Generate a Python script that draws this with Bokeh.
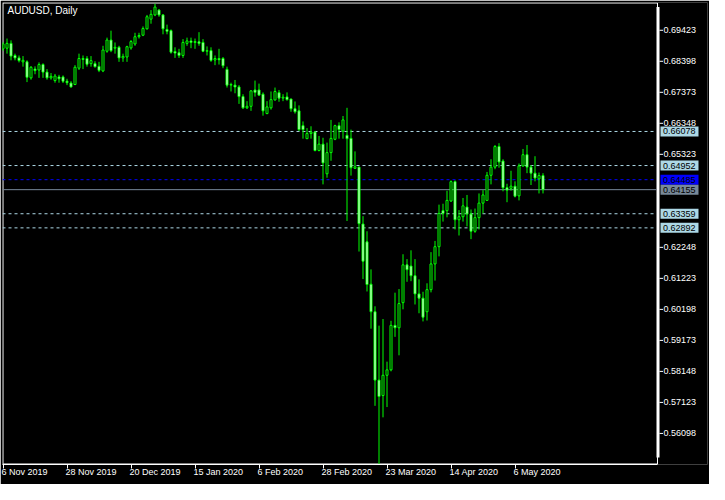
from bokeh.plotting import figure
from bokeh.models import (Range1d, FixedTicker, Label, ColumnDataSource,
                          PrintfTickFormatter, LinearAxis, CustomJSTickFormatter)
from bokeh.core.properties import value
from bokeh.embed import file_html
from bokeh.resources import INLINE

# ---------------- data (AUDUSD daily, 6 Nov 2019 .. 15 May 2020) ----------------
opens = [0.6881, 0.6883, 0.6899, 0.6859, 0.6851, 0.6838, 0.6838, 0.6785, 0.6814, 0.6811,
         0.6829, 0.6804, 0.6785, 0.6776, 0.6788, 0.6788, 0.6774, 0.6768, 0.6763, 0.6817,
         0.6849, 0.6849, 0.6832, 0.6832, 0.6823, 0.6808, 0.6873, 0.6910, 0.6883, 0.6886,
         0.6851, 0.6854, 0.6884, 0.6897, 0.6921, 0.6926, 0.6947, 0.6979, 0.6993, 0.7009,
         0.6993, 0.6945, 0.6941, 0.6872, 0.6868, 0.6859, 0.6899, 0.6907, 0.6902, 0.6904,
         0.6902, 0.6873, 0.6875, 0.6844, 0.6849, 0.6849, 0.6813, 0.6761, 0.6761, 0.6755,
         0.6723, 0.6686, 0.6691, 0.6745, 0.6745, 0.6731, 0.6667, 0.6686, 0.6712, 0.6736,
         0.6718, 0.6722, 0.6715, 0.6683, 0.6676, 0.6627, 0.6584, 0.6601, 0.6606, 0.6545,
         0.6566, 0.6468, 0.6538, 0.6582, 0.6627, 0.6609, 0.6595, 0.6585, 0.6486, 0.6490,
         0.6302, 0.6243, 0.6103, 0.6012, 0.5786, 0.5735, 0.5802, 0.5820, 0.5967, 0.5959,
         0.6042, 0.6167, 0.6163, 0.6131, 0.6071, 0.6057, 0.6012, 0.6085, 0.6170, 0.6227,
         0.6346, 0.6346, 0.6378, 0.6442, 0.6316, 0.6326, 0.6358, 0.6335, 0.6278, 0.6323,
         0.6371, 0.6380, 0.6463, 0.6490, 0.6558, 0.6510, 0.6422, 0.6420, 0.6427, 0.6395,
         0.6494, 0.6531, 0.6490, 0.6470, 0.6451, 0.6462]
highs = [0.6903, 0.6915, 0.6909, 0.6865, 0.6859, 0.6857, 0.6843, 0.6824, 0.6823, 0.6836,
         0.6833, 0.6814, 0.6801, 0.6798, 0.6795, 0.6793, 0.6782, 0.6774, 0.6827, 0.6865,
         0.6859, 0.6857, 0.6857, 0.6840, 0.6838, 0.6891, 0.6918, 0.6941, 0.6902, 0.6891,
         0.6865, 0.6891, 0.6910, 0.6934, 0.6934, 0.6955, 0.6993, 0.7009, 0.7030, 0.7012,
         0.6996, 0.6961, 0.6945, 0.6886, 0.6881, 0.6913, 0.6918, 0.6918, 0.6915, 0.6936,
         0.6913, 0.6889, 0.6886, 0.6859, 0.6881, 0.6854, 0.6822, 0.6769, 0.6778, 0.6761,
         0.6731, 0.6708, 0.6744, 0.6776, 0.6766, 0.6737, 0.6708, 0.6740, 0.6753, 0.6745,
         0.6731, 0.6737, 0.6716, 0.6707, 0.6694, 0.6641, 0.6619, 0.6625, 0.6608, 0.6593,
         0.6587, 0.6571, 0.6646, 0.6630, 0.6638, 0.6659, 0.6686, 0.6614, 0.6542, 0.6491,
         0.6328, 0.6278, 0.6152, 0.6030, 0.5966, 0.5988, 0.5847, 0.5982, 0.6075, 0.6087,
         0.6202, 0.6186, 0.6215, 0.6186, 0.6119, 0.6078, 0.6106, 0.6209, 0.6246, 0.6366,
         0.6369, 0.6412, 0.6446, 0.6446, 0.6348, 0.6388, 0.6398, 0.6350, 0.6353, 0.6403,
         0.6414, 0.6474, 0.6516, 0.6563, 0.6569, 0.6516, 0.6435, 0.6478, 0.6443, 0.6502,
         0.6550, 0.6563, 0.6497, 0.6526, 0.6472, 0.6470]
lows = [0.6874, 0.6865, 0.6843, 0.6843, 0.6836, 0.6822, 0.6771, 0.6779, 0.6797, 0.6785,
        0.6785, 0.6779, 0.6779, 0.6769, 0.6769, 0.6768, 0.6761, 0.6753, 0.6761, 0.6811,
        0.6814, 0.6822, 0.6822, 0.6819, 0.6804, 0.6804, 0.6868, 0.6870, 0.6865, 0.6838,
        0.6838, 0.6838, 0.6878, 0.6891, 0.6915, 0.6923, 0.6945, 0.6964, 0.6989, 0.6987,
        0.6929, 0.6929, 0.6865, 0.6851, 0.6851, 0.6851, 0.6891, 0.6883, 0.6881, 0.6891,
        0.6870, 0.6859, 0.6838, 0.6827, 0.6829, 0.6817, 0.6753, 0.6740, 0.6734, 0.6699,
        0.6682, 0.6682, 0.6676, 0.6723, 0.6725, 0.6660, 0.6665, 0.6680, 0.6710, 0.6706,
        0.6708, 0.6710, 0.6673, 0.6667, 0.6609, 0.6584, 0.6584, 0.6584, 0.6542, 0.6542,
        0.6433, 0.6455, 0.6511, 0.6579, 0.6584, 0.6584, 0.6312, 0.6462, 0.6484, 0.6211,
        0.6120, 0.6079, 0.5956, 0.5701, 0.5509, 0.5663, 0.5697, 0.5815, 0.5929, 0.5868,
        0.6020, 0.6111, 0.6113, 0.6036, 0.6007, 0.5980, 0.5983, 0.6076, 0.6115, 0.6195,
        0.6310, 0.6324, 0.6375, 0.6284, 0.6264, 0.6310, 0.6294, 0.6252, 0.6273, 0.6284,
        0.6337, 0.6380, 0.6433, 0.6483, 0.6488, 0.6410, 0.6374, 0.6412, 0.6390, 0.6380,
        0.6491, 0.6470, 0.6431, 0.6443, 0.6403, 0.6403]
closes = [0.6897, 0.6899, 0.6857, 0.6851, 0.6842, 0.6843, 0.6787, 0.6820, 0.6809, 0.6829,
          0.6804, 0.6785, 0.6790, 0.6791, 0.6782, 0.6774, 0.6769, 0.6755, 0.6820, 0.6849,
          0.6846, 0.6830, 0.6842, 0.6822, 0.6810, 0.6877, 0.6910, 0.6875, 0.6886, 0.6851,
          0.6856, 0.6888, 0.6905, 0.6921, 0.6925, 0.6948, 0.6987, 0.6995, 0.7019, 0.6993,
          0.6947, 0.6939, 0.6870, 0.6867, 0.6859, 0.6902, 0.6907, 0.6902, 0.6905, 0.6899,
          0.6873, 0.6875, 0.6843, 0.6849, 0.6845, 0.6825, 0.6761, 0.6763, 0.6755, 0.6723,
          0.6686, 0.6691, 0.6742, 0.6737, 0.6728, 0.6676, 0.6689, 0.6713, 0.6740, 0.6718,
          0.6721, 0.6713, 0.6683, 0.6673, 0.6614, 0.6614, 0.6601, 0.6606, 0.6545, 0.6566,
          0.6504, 0.6538, 0.6585, 0.6627, 0.6614, 0.6646, 0.6584, 0.6488, 0.6491, 0.6303,
          0.6179, 0.6102, 0.6012, 0.5786, 0.5732, 0.5802, 0.5820, 0.5967, 0.5959, 0.6039,
          0.6167, 0.6151, 0.6131, 0.6071, 0.6057, 0.5994, 0.6085, 0.6170, 0.6227, 0.6337,
          0.6337, 0.6380, 0.6442, 0.6316, 0.6326, 0.6362, 0.6335, 0.6278, 0.6323, 0.6371,
          0.6398, 0.6463, 0.6490, 0.6558, 0.6507, 0.6422, 0.6414, 0.6427, 0.6394, 0.6494,
          0.6531, 0.6490, 0.6470, 0.6454, 0.6462, 0.64155]

date_tick_bars = [0, 16, 32, 48, 64, 80, 96, 112, 128]
date_tick_labels = ["6 Nov 2019", "28 Nov 2019", "20 Dec 2019", "15 Jan 2020", "6 Feb 2020",
                    "28 Feb 2020", "23 Mar 2020", "14 Apr 2020", "6 May 2020"]
shown_price_ticks = [0.56098, 0.57123, 0.58148, 0.59173, 0.60198, 0.61223, 0.62248,
                     0.65323, 0.66348, 0.67373, 0.68398, 0.69423]
level_prices = [0.66078, 0.64952, 0.63359, 0.62892]
order_price = 0.64485
bid_price = 0.64155
symbol_title = "AUDUSD, Daily"

# ---------------- geometry / style ----------------
FW, FH = 705, 462          # frame: chart area + price-scale strip
CHART_W = 655              # chart area width in px
PX_PER_BAR = 4.0
BPX = 1 / PX_PER_BAR       # bars per pixel
X0 = -0.125
X1 = X0 + FW * BPX
CHART_END = X0 + CHART_W * BPX
YMIN, YMAX = 0.55071, 0.70341
PPX = (YMAX - YMIN) / FH   # price per pixel
FONT = "Liberation Sans"
FONT_PX = 9
WHITE = "white"
LIME = "#00FF00"
LEVEL_BLUE = "#ADD8E6"
ORDER_BLUE = "#0000FF"
BID_GRAY = "#778899"

p = figure(frame_width=FW, frame_height=FH,
           min_border_left=2, min_border_top=2, min_border_right=2, min_border_bottom=20,
           x_range=Range1d(X0, X1), y_range=Range1d(YMIN, YMAX),
           y_axis_location="right",
           output_backend="svg", toolbar_location=None)
p.background_fill_color = "black"
p.border_fill_color = "black"
p.outline_line_color = None
p.xgrid.visible = False
p.ygrid.visible = False

# price scale labels (right axis, labels pulled back into the scale strip)
ya = p.yaxis[0]
ya.ticker = FixedTicker(ticks=shown_price_ticks)
ya.formatter = PrintfTickFormatter(format="%.5f")
ya.axis_line_color = None
ya.major_tick_line_color = None
ya.major_tick_out = 0
ya.major_tick_in = 0
ya.minor_tick_line_color = None
ya.major_label_text_color = WHITE
ya.major_label_text_font = FONT
ya.major_label_text_font_size = f"{FONT_PX}px"
ya.major_label_standoff = (CHART_W + 6) - FW

# x axis (bottom): tick marks only, line limited to chart area
xa = p.xaxis[0]
xa.ticker = FixedTicker(ticks=date_tick_bars)
xa.formatter = CustomJSTickFormatter(code="return ''")
xa.bounds = (X0, CHART_END)
xa.axis_line_color = WHITE
xa.major_tick_line_color = WHITE
xa.major_tick_out = 4
xa.major_tick_in = 0
xa.minor_tick_line_color = None
xa.major_label_text_font_size = "1px"
xa.major_label_standoff = 0

# x axis labels, left-aligned on their ticks (centre shifted by half the text width)
EM = {"0": .556, "1": .556, "2": .556, "3": .556, "4": .556, "5": .556, "6": .556,
      "7": .556, "8": .556, "9": .556, " ": .278, "N": .722, "o": .556, "v": .5,
      "D": .722, "e": .556, "c": .5, "J": .5, "a": .556, "n": .556, "F": .611,
      "b": .556, "M": .833, "r": .333, "A": .667, "p": .556, "y": .5}
def half_width_bars(s):
    return sum(EM.get(ch, .556) for ch in s) * FONT_PX / 2 * BPX
label_pos = [b - 0.4 + half_width_bars(s) for b, s in zip(date_tick_bars, date_tick_labels)]
xl = LinearAxis(ticker=FixedTicker(ticks=label_pos),
                formatter=CustomJSTickFormatter(
                    args=dict(pos=label_pos, names=date_tick_labels),
                    code="const i = pos.indexOf(tick); return i >= 0 ? names[i] : ''"))
xl.axis_line_color = None
xl.major_tick_line_color = None
xl.major_tick_out = 0
xl.major_tick_in = 0
xl.minor_tick_line_color = None
xl.major_label_text_color = WHITE
xl.major_label_text_font = FONT
xl.major_label_text_font_size = f"{FONT_PX}px"
xl.major_label_standoff = -2
p.add_layout(xl, "below")

# chart border (left, top) and the price-scale bar on the right
p.quad(left=[X0 + 0.5 * BPX], right=[CHART_END], top=[YMAX - 0.5 * PPX],
       bottom=[YMIN + 0.5 * PPX], fill_color=None, line_color=WHITE, line_width=1)
p.quad(left=[CHART_END - 1 * BPX], right=[CHART_END + 2 * BPX],
       top=[YMAX - 4.5 * PPX], bottom=[YMIN + 7 * PPX],
       fill_color=WHITE, line_color=None)
# scale tick marks
n_t = len(shown_price_ticks)
p.segment(x0=[CHART_END + 2 * BPX] * n_t, x1=[CHART_END + 5.5 * BPX] * n_t,
          y0=shown_price_ticks, y1=shown_price_ticks, line_color=WHITE, line_width=1)

# horizontal levels across the chart area (behind candles)
n_l = len(level_prices)
p.segment(x0=[X0] * n_l, x1=[CHART_END - 1 * BPX] * n_l, y0=level_prices, y1=level_prices,
          line_color=LEVEL_BLUE, line_dash="3 3", line_width=1)
p.segment(x0=[X0], x1=[CHART_END - 1 * BPX], y0=[order_price], y1=[order_price],
          line_color=ORDER_BLUE, line_dash="3 3", line_width=1)
p.segment(x0=[X0], x1=[CHART_END - 1 * BPX], y0=[bid_price], y1=[bid_price],
          line_color=BID_GRAY, line_width=1)

# candles
bars = list(range(len(opens)))
tops = [max(o, c) for o, c in zip(opens, closes)]
bots = [min(o, c) for o, c in zip(opens, closes)]
fills = ["black" if c > o else "white" for o, c in zip(opens, closes)]
src = ColumnDataSource(dict(x=bars, o=opens, h=highs, l=lows, c=closes,
                            top=tops, bottom=bots, fill=fills))
p.segment(x0="x", y0="l", x1="x", y1="h", source=src, line_color=LIME, line_width=1)
p.vbar(x="x", width=2 * BPX, top="top", bottom="bottom", source=src,
       fill_color="fill", line_color=LIME, line_width=1)

# price boxes on the scale
box_prices = level_prices + [order_price, bid_price]
box_colors = [LEVEL_BLUE] * n_l + [ORDER_BLUE, BID_GRAY]
box_texts = [f"{v:.5f}" for v in box_prices]
nb = len(box_prices)
bsrc = ColumnDataSource(dict(
    left=[CHART_END + 3 * BPX] * nb, right=[CHART_END + 41 * BPX] * nb,
    top=[v + 5 * PPX for v in box_prices], bottom=[v - 5 * PPX for v in box_prices],
    y=box_prices, x=[CHART_END + 5.5 * BPX] * nb, color=box_colors, text=box_texts))
p.quad(left="left", right="right", top="top", bottom="bottom", source=bsrc,
       fill_color="color", line_color=None)
p.text(x="x", y="y", text="text", source=bsrc, text_font=value(FONT),
       text_font_size=f"{FONT_PX}px", text_color="black",
       text_baseline="middle", text_align="left")

# title
p.add_layout(Label(x=5, y=FH - 2, x_units="screen", y_units="screen",
                   text=symbol_title, text_font=FONT, text_font_size="10px",
                   text_color=WHITE, text_baseline="top", text_align="left"))

open("out.html", "w").write(file_html(p, INLINE))
